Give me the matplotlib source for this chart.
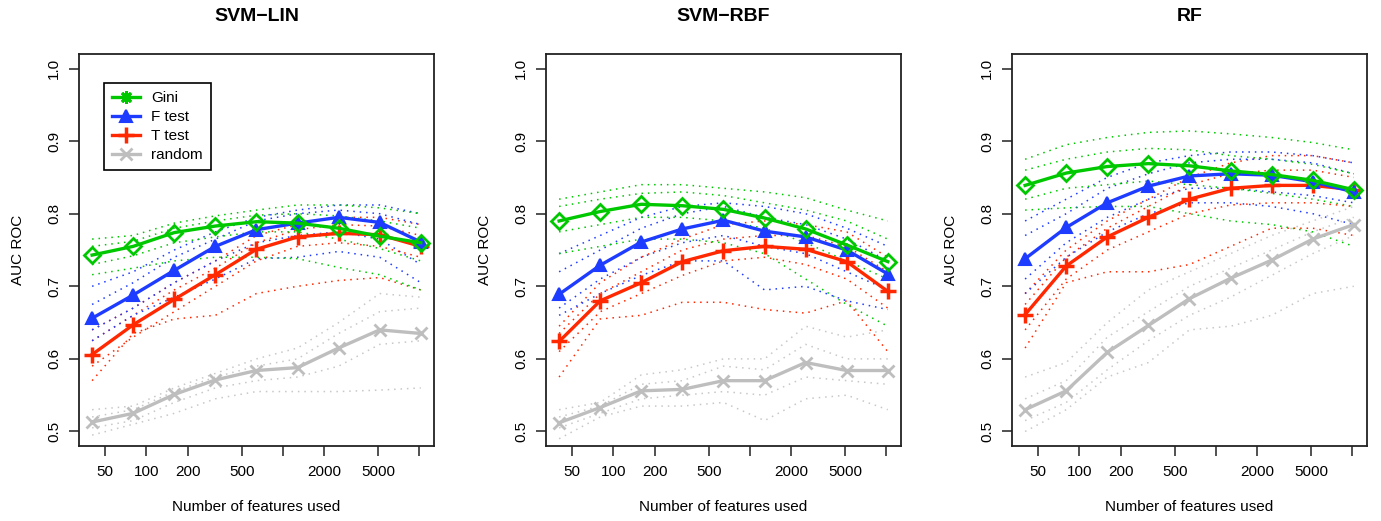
import numpy as np
import matplotlib
matplotlib.use("Agg")
import matplotlib.pyplot as plt
from matplotlib.lines import Line2D

plt.rcParams['font.family'] = ['Liberation Sans', 'DejaVu Sans']

# ---------------- data ----------------
n_features = [40, 80, 160, 320, 640, 1280, 2560, 5120, 10240]
x_ticks = [50, 100, 200, 500, 1000, 2000, 5000, 10000]
x_ticklabels = ['50', '100', '200', '500', '', '2000', '5000', '']
y_ticks = [0.5, 0.6, 0.7, 0.8, 0.9, 1.0]
y_ticklabels = ['0.5', '0.6', '0.7', '0.8', '0.9', '1.0']
titles = ['SVM\u2212LIN', 'SVM\u2212RBF', 'RF']
methods = ['Gini', 'F test', 'T test', 'random']

# SVM-LIN means
lin_gini = [0.743, 0.755, 0.774, 0.783, 0.789, 0.787, 0.780, 0.769, 0.760]
lin_ftest = [0.656, 0.688, 0.722, 0.755, 0.778, 0.787, 0.795, 0.788, 0.761]
lin_ttest = [0.606, 0.647, 0.682, 0.716, 0.751, 0.768, 0.773, 0.771, 0.755]
lin_random = [0.513, 0.525, 0.551, 0.571, 0.584, 0.588, 0.615, 0.640, 0.635]
# SVM-LIN individual runs (dotted)
lin_gini_runs = [[0.765, 0.770, 0.787, 0.797, 0.805, 0.812, 0.812, 0.808, 0.800],
                 [0.755, 0.762, 0.780, 0.790, 0.798, 0.800, 0.797, 0.790, 0.780],
                 [0.730, 0.742, 0.760, 0.768, 0.775, 0.775, 0.765, 0.752, 0.735],
                 [0.716, 0.725, 0.735, 0.740, 0.740, 0.738, 0.726, 0.716, 0.695]]
lin_ftest_runs = [[0.700, 0.720, 0.750, 0.775, 0.795, 0.805, 0.812, 0.812, 0.800],
                  [0.675, 0.705, 0.740, 0.765, 0.790, 0.800, 0.805, 0.800, 0.785],
                  [0.640, 0.670, 0.705, 0.735, 0.760, 0.770, 0.775, 0.765, 0.730],
                  [0.625, 0.660, 0.685, 0.710, 0.738, 0.740, 0.748, 0.740, 0.705]]
lin_ttest_runs = [[0.640, 0.670, 0.705, 0.735, 0.770, 0.785, 0.795, 0.795, 0.785],
                  [0.625, 0.660, 0.695, 0.725, 0.760, 0.778, 0.785, 0.783, 0.770],
                  [0.590, 0.630, 0.665, 0.700, 0.735, 0.755, 0.760, 0.755, 0.740],
                  [0.570, 0.635, 0.655, 0.660, 0.690, 0.700, 0.708, 0.712, 0.695]]
lin_random_runs = [[0.530, 0.535, 0.560, 0.580, 0.600, 0.615, 0.650, 0.690, 0.685],
                   [0.520, 0.530, 0.555, 0.575, 0.590, 0.600, 0.635, 0.665, 0.670],
                   [0.505, 0.515, 0.540, 0.560, 0.570, 0.575, 0.590, 0.620, 0.625],
                   [0.495, 0.510, 0.525, 0.545, 0.555, 0.555, 0.555, 0.557, 0.560]]

# SVM-RBF means
rbf_gini = [0.790, 0.803, 0.813, 0.811, 0.806, 0.794, 0.779, 0.757, 0.734]
rbf_ftest = [0.689, 0.729, 0.761, 0.779, 0.791, 0.776, 0.768, 0.750, 0.717]
rbf_ttest = [0.624, 0.680, 0.705, 0.734, 0.749, 0.755, 0.751, 0.734, 0.693]
rbf_random = [0.512, 0.533, 0.556, 0.558, 0.570, 0.570, 0.595, 0.584, 0.584]
rbf_gini_runs = [[0.820, 0.830, 0.840, 0.840, 0.835, 0.830, 0.822, 0.805, 0.790],
                 [0.810, 0.820, 0.828, 0.830, 0.825, 0.815, 0.805, 0.790, 0.765],
                 [0.775, 0.785, 0.795, 0.795, 0.790, 0.780, 0.760, 0.735, 0.710],
                 [0.745, 0.755, 0.765, 0.765, 0.760, 0.745, 0.710, 0.675, 0.645]]
rbf_ftest_runs = [[0.745, 0.770, 0.795, 0.810, 0.815, 0.810, 0.800, 0.780, 0.755],
                  [0.720, 0.750, 0.780, 0.800, 0.810, 0.795, 0.785, 0.765, 0.735],
                  [0.670, 0.710, 0.740, 0.760, 0.770, 0.755, 0.745, 0.720, 0.695],
                  [0.660, 0.690, 0.715, 0.735, 0.735, 0.695, 0.700, 0.680, 0.668]]
rbf_ttest_runs = [[0.645, 0.705, 0.740, 0.765, 0.785, 0.790, 0.785, 0.775, 0.740],
                  [0.635, 0.690, 0.720, 0.750, 0.765, 0.770, 0.770, 0.755, 0.720],
                  [0.610, 0.665, 0.690, 0.715, 0.735, 0.740, 0.730, 0.710, 0.670],
                  [0.575, 0.655, 0.660, 0.678, 0.678, 0.668, 0.663, 0.680, 0.610]]
rbf_random_runs = [[0.530, 0.540, 0.578, 0.585, 0.600, 0.600, 0.645, 0.630, 0.640],
                   [0.520, 0.535, 0.565, 0.570, 0.590, 0.585, 0.620, 0.600, 0.600],
                   [0.505, 0.525, 0.545, 0.550, 0.555, 0.550, 0.575, 0.570, 0.565],
                   [0.490, 0.520, 0.535, 0.535, 0.540, 0.515, 0.545, 0.550, 0.530]]

# RF means
rf_gini = [0.839, 0.856, 0.865, 0.869, 0.866, 0.859, 0.854, 0.846, 0.833]
rf_ftest = [0.738, 0.781, 0.815, 0.838, 0.852, 0.855, 0.853, 0.844, 0.830]
rf_ttest = [0.661, 0.728, 0.768, 0.795, 0.820, 0.835, 0.839, 0.839, 0.833]
rf_random = [0.530, 0.556, 0.609, 0.646, 0.683, 0.711, 0.736, 0.765, 0.785]
rf_gini_runs = [[0.875, 0.895, 0.905, 0.912, 0.914, 0.910, 0.905, 0.898, 0.888],
                [0.860, 0.875, 0.885, 0.890, 0.888, 0.880, 0.875, 0.868, 0.855],
                [0.820, 0.835, 0.840, 0.845, 0.840, 0.835, 0.828, 0.820, 0.810],
                [0.805, 0.808, 0.810, 0.810, 0.800, 0.790, 0.785, 0.775, 0.755]]
rf_ftest_runs = [[0.790, 0.820, 0.850, 0.870, 0.880, 0.885, 0.885, 0.880, 0.870],
                 [0.770, 0.800, 0.835, 0.855, 0.870, 0.875, 0.875, 0.870, 0.855],
                 [0.710, 0.760, 0.795, 0.820, 0.835, 0.835, 0.830, 0.825, 0.815],
                 [0.690, 0.740, 0.775, 0.800, 0.815, 0.815, 0.810, 0.800, 0.785]]
rf_ttest_runs = [[0.690, 0.750, 0.790, 0.820, 0.850, 0.870, 0.880, 0.880, 0.870],
                 [0.675, 0.740, 0.780, 0.810, 0.840, 0.855, 0.860, 0.860, 0.850],
                 [0.640, 0.710, 0.750, 0.775, 0.800, 0.812, 0.815, 0.815, 0.810],
                 [0.615, 0.705, 0.720, 0.720, 0.730, 0.755, 0.780, 0.780, 0.770]]
rf_random_runs = [[0.575, 0.595, 0.650, 0.695, 0.720, 0.745, 0.770, 0.790, 0.810],
                  [0.545, 0.570, 0.630, 0.665, 0.700, 0.725, 0.750, 0.775, 0.795],
                  [0.515, 0.540, 0.585, 0.625, 0.660, 0.685, 0.715, 0.745, 0.770],
                  [0.500, 0.530, 0.575, 0.595, 0.640, 0.645, 0.660, 0.690, 0.700]]

# ---------------- style ----------------
col_gini = '#00C800'
col_f = '#1E3CFF'
col_t = '#FF2800'
col_rand = '#BEBEBE'
col_rand_dot = '#C8C8C8'

panels = [
    (titles[0], [lin_random, lin_ttest, lin_ftest, lin_gini],
     [lin_random_runs, lin_ttest_runs, lin_ftest_runs, lin_gini_runs]),
    (titles[1], [rbf_random, rbf_ttest, rbf_ftest, rbf_gini],
     [rbf_random_runs, rbf_ttest_runs, rbf_ftest_runs, rbf_gini_runs]),
    (titles[2], [rf_random, rf_ttest, rf_ftest, rf_gini],
     [rf_random_runs, rf_ttest_runs, rf_ftest_runs, rf_gini_runs]),
]
colors = [col_rand, col_t, col_f, col_gini]
dot_colors = [col_rand_dot, col_t, col_f, col_gini]
markers = ['x', '+', '^', 'D']
msizes = [9, 12, 9, 8]
mews = [2.0, 2.5, 1.5, 2.0]
mfaces = [None, None, 'fill', 'none']

fig = plt.figure(figsize=(13.81, 5.21), dpi=100)
lefts = [79 / 1381, 546 / 1381, 1012 / 1381]
width = 355 / 1381
bottom = 75 / 521
height = 392 / 521

for i, (title, means, runs) in enumerate(panels):
    ax = fig.add_axes([lefts[i], bottom, width, height])
    ax.set_xscale('log')
    # dotted individual runs
    for j in range(4):
        for r in runs[j]:
            ax.plot(n_features, r, color=dot_colors[j], lw=1.1,
                    linestyle=(0, (1, 3.2)), zorder=1)
    # mean lines
    for j in range(4):
        mfc = colors[j] if mfaces[j] == 'fill' else 'none'
        ax.plot(n_features, means[j], color=colors[j], lw=2.4,
                marker=markers[j], markersize=msizes[j], mew=mews[j],
                markerfacecolor=mfc, markeredgecolor=colors[j], zorder=3 + j)
    ax.set_xlim(10 ** 1.506, 10 ** 4.107)
    ax.set_ylim(0.48, 1.02)
    ax.set_xticks(x_ticks)
    ax.set_xticklabels(x_ticklabels)
    ax.xaxis.set_minor_locator(matplotlib.ticker.NullLocator())
    ax.set_yticks(y_ticks)
    ax.set_yticklabels(y_ticklabels, rotation=90, va='center')
    ax.tick_params(axis='both', direction='out', length=7, width=1.1,
                   labelsize=11, color='#222222')
    ax.tick_params(axis='x', pad=7)
    ax.tick_params(axis='y', pad=6)
    for s in ax.spines.values():
        s.set_linewidth(1.3)
        s.set_color('#222222')
    ax.set_title(title, fontsize=14, fontweight='bold', pad=24)
    ax.set_xlabel('Number of features used', fontsize=11, labelpad=15)
    ax.set_ylabel('AUC ROC', fontsize=11, labelpad=16)

    if i == 0:
        handles = [
            Line2D([], [], color=col_gini, lw=2.4, marker=(8, 2, 0),
                   markersize=9, mew=2),
            Line2D([], [], color=col_f, lw=2.4, marker='^', markersize=8,
                   mew=1.5),
            Line2D([], [], color=col_t, lw=2.4, marker='+', markersize=11,
                   mew=2.5),
            Line2D([], [], color=col_rand, lw=2.4, marker='x', markersize=8,
                   mew=2),
        ]
        leg = ax.legend(handles, methods, loc='upper left',
                        bbox_to_anchor=(0.070, 0.926), fontsize=11,
                        frameon=True, fancybox=False, edgecolor='black',
                        framealpha=1, handlelength=1.8, borderpad=0.55,
                        labelspacing=0.32, handletextpad=0.75,
                        borderaxespad=0)
        leg.get_frame().set_linewidth(1.2)

fig.savefig('out.png', dpi=100)
